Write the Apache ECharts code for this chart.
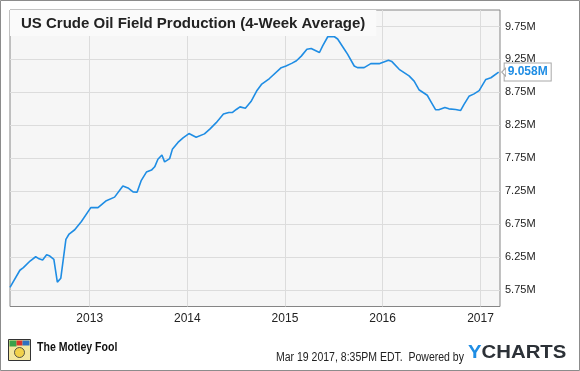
<!DOCTYPE html>
<html>
<head>
<meta charset="utf-8">
<script src="https://cdn.jsdelivr.net/npm/echarts@6/dist/echarts.min.js"></script>
<style>
html,body{margin:0;padding:0;background:#fff;}
#chart{width:580px;height:371px;}
</style>
</head>
<body>
<div id="chart"></div>
<script>
const titleText = 'US Crude Oil Field Production (4-Week Average)';
const dates = [
'2012-03-09','2012-04-15','2012-04-28','2012-05-23','2012-06-13','2012-06-23','2012-07-09','2012-07-24',
'2012-08-05','2012-08-20','2012-09-02','2012-09-09','2012-09-15','2012-10-04','2012-10-16','2012-11-06',
'2012-12-01','2013-01-05','2013-02-01','2013-03-02','2013-04-04','2013-05-05','2013-05-24','2013-06-12',
'2013-06-27','2013-07-13','2013-08-01','2013-08-20','2013-09-01','2013-09-13','2013-09-28','2013-10-08',
'2013-10-27','2013-11-06','2013-11-27','2013-12-16','2014-01-07','2014-02-03','2014-03-06','2014-03-27',
'2014-04-19','2014-05-16','2014-06-05','2014-06-19','2014-07-03','2014-07-17','2014-08-06','2014-08-27',
'2014-09-17','2014-10-05','2014-11-04','2014-12-18','2015-01-05','2015-01-26','2015-02-13','2015-03-03',
'2015-03-24','2015-04-09','2015-05-10','2015-05-22','2015-06-10','2015-07-05','2015-07-17','2015-08-11',
'2015-08-23','2015-09-17','2015-09-29','2015-10-24','2015-11-18','2015-12-19','2016-01-23','2016-02-05',
'2016-03-03','2016-04-09','2016-04-28','2016-05-16','2016-06-16','2016-06-29','2016-07-17','2016-07-29',
'2016-08-21','2016-09-05','2016-09-30','2016-10-19','2016-10-31','2016-11-19','2016-12-08','2016-12-27',
'2017-01-21','2017-02-09','2017-03-10'
];
const values = [
5.79,6.05,6.09,6.19,6.255,6.23,6.205,6.285,
6.265,6.215,5.87,5.87,5.93,6.52,6.60,6.665,
6.79,7.00,7.00,7.10,7.16,7.33,7.30,7.24,
7.235,7.415,7.54,7.57,7.62,7.735,7.80,7.695,
7.745,7.885,7.99,8.06,8.125,8.07,8.12,8.195,
8.29,8.42,8.445,8.445,8.49,8.53,8.51,8.61,
8.77,8.87,8.96,9.125,9.15,9.19,9.23,9.30,
9.405,9.415,9.355,9.455,9.594,9.594,9.56,9.405,
9.33,9.15,9.125,9.125,9.186,9.186,9.237,9.217,
9.10,9.00,8.92,8.79,8.706,8.614,8.487,8.487,
8.522,8.50,8.49,8.476,8.563,8.69,8.727,8.777,
8.946,8.972,9.058
];
const yTicks = [5.75,6.25,6.75,7.25,7.75,8.25,8.75,9.25,9.75];
const xTickYears = [2013,2014,2015,2016,2017];
const xMin = '2012-03-09';
const xMax = '2017-03-15';
const footerStamp = 'Mar 19 2017, 8:35PM EDT.  Powered by';

function ts(s) { const p = s.split('-').map(Number); return Date.UTC(p[0], p[1] - 1, p[2]); }
const lineColor = '#1f8de4';
const seriesData = dates.map((d, i) => [ts(d), values[i]]);
const lastPoint = seriesData[seriesData.length - 1];
const xTickValues = xTickYears.map(y => Date.UTC(y, 0, 1));

const chart = echarts.init(document.getElementById('chart'), null, {renderer: 'canvas'});
chart.setOption({
  animation: false,
  backgroundColor: '#ffffff',
  textStyle: {fontFamily: '"Liberation Sans", Arial, sans-serif'},
  title: {
    text: titleText,
    left: 10, top: 10,
    padding: [6, 11, 5, 11],
    backgroundColor: '#fafafa',
    textStyle: {fontSize: 15, fontWeight: 'bold', color: '#222', fontFamily: '"Liberation Sans", Arial, sans-serif'}
  },
  grid: {
    left: 10, right: 80, top: 10, bottom: 64.5,
    show: true, backgroundColor: '#f6f6f6', borderColor: '#858585', borderWidth: 1
  },
  xAxis: {
    type: 'value',
    min: ts(xMin), max: ts(xMax),
    axisLine: {show: false},
    axisTick: {show: false, customValues: xTickValues},
    axisLabel: {
      customValues: xTickValues,
      formatter: v => String(new Date(v).getUTCFullYear()),
      color: '#222', fontSize: 12, margin: 6
    },
    splitLine: {show: true, lineStyle: {color: '#dcdcdc', width: 1}}
  },
  yAxis: {
    type: 'value',
    position: 'right',
    min: 5.5, max: 10,
    axisLine: {show: false},
    axisTick: {show: false, customValues: yTicks},
    axisLabel: {
      customValues: yTicks,
      formatter: v => v.toFixed(2) + 'M',
      color: '#222', fontSize: 11, margin: 5
    },
    splitLine: {show: true, lineStyle: {color: '#dcdcdc', width: 1}}
  },
  series: [{
    type: 'line',
    data: seriesData,
    showSymbol: false,
    symbol: 'none',
    smooth: false,
    lineStyle: {color: lineColor, width: 1.6},
    itemStyle: {color: lineColor},
    endLabel: {
      show: true,
      formatter: p => p.value[1].toFixed(3) + 'M',
      color: lineColor,
      fontWeight: 'bold',
      fontSize: 12,
      backgroundColor: '#ffffff',
      borderColor: '#a8a8a8',
      borderWidth: 1,
      padding: [3, 3, 2, 3],
      distance: 6
    },
    markPoint: {
      silent: true,
      symbol: 'path://M0,5 L6,0 L6,10 Z',
      symbolSize: [4, 8],
      symbolOffset: [5, 0],
      itemStyle: {color: '#ffffff', borderColor: '#a8a8a8', borderWidth: 1},
      label: {show: false},
      data: [{coord: lastPoint}]
    }
  }],
  graphic: [
    {type: 'rect', shape: {x: 0.5, y: 0.5, width: 579, height: 370}, style: {fill: 'none', stroke: '#8c8c8c', lineWidth: 1}, z: 100},
    {type: 'group', left: 8, top: 339, children: [
      {type: 'rect', shape: {x: 0, y: 0, width: 22, height: 21}, style: {fill: '#f3e7a0', stroke: '#333', lineWidth: 1}},
      {type: 'rect', shape: {x: 1, y: 1, width: 7, height: 6}, style: {fill: '#3aa04a'}},
      {type: 'rect', shape: {x: 8, y: 1, width: 6, height: 5}, style: {fill: '#d8342c'}},
      {type: 'rect', shape: {x: 14, y: 1, width: 7, height: 5}, style: {fill: '#2f6fc0'}},
      {type: 'circle', shape: {cx: 11, cy: 13, r: 5}, style: {fill: '#f2d24b', stroke: '#333', lineWidth: 0.8}}
    ]},
    {type: 'text', x: 37, y: 342, scaleX: 0.88, style: {text: 'The Motley Fool', fill: '#111', font: 'bold 12px "Liberation Sans", Arial, sans-serif'}},
    {type: 'text', x: 276, y: 352, scaleX: 0.875, style: {text: footerStamp, fill: '#222', font: '12px "Liberation Sans", Arial, sans-serif'}},
    {type: 'text', x: 468, y: 344, scaleX: 1.13, style: {
      text: '{y|Y}{c|CHARTS}',
      rich: {
        y: {fill: '#1f8de4', font: 'bold 18px "Liberation Sans", Arial, sans-serif'},
        c: {fill: '#2c3137', font: 'bold 18px "Liberation Sans", Arial, sans-serif'}
      }
    }}
  ]
});
</script>
</body>
</html>
